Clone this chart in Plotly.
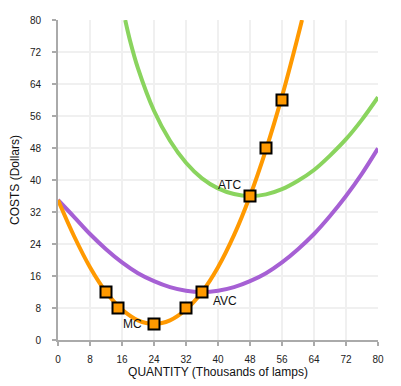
import plotly.graph_objects as go

# Marginal cost curve
mc_q = [0, 4, 8, 12, 16, 20, 24, 28, 32, 36, 40, 44, 48, 52, 56, 60, 61]
mc_v = [35, 26.0, 18.2, 12, 7.6, 4.9, 4, 4.9, 7.6, 12, 18.2, 26.2, 36, 47.6, 60.9, 76, 80]

# Average variable cost curve
avc_q = [0, 4, 8, 12, 16, 20, 24, 28, 32, 36, 40, 44, 48, 52, 56, 60, 64, 68, 72, 76, 80]
avc_v = [35, 30.8, 26.5, 22.7, 19.4, 16.7, 14.7, 13.2, 12.3, 12, 12.3, 13.2, 14.7, 16.7,
         19.4, 22.7, 26.5, 31.0, 36, 41.6, 47.9]

# Average total cost curve
atc_q = [16.8, 18, 20, 24, 28, 32, 36, 40, 44, 48, 52, 56, 60, 64, 68, 72, 76, 80]
atc_v = [80, 74.9, 67.9, 57.3, 49.8, 44.3, 40.4, 37.9, 36.5, 36.0, 36.4, 37.7, 39.8,
         42.5, 46.1, 50.2, 55.1, 60.7]

# Highlighted points on MC
pt_q = [12, 15, 24, 32, 36, 48, 52, 56]
pt_v = [12, 8, 4, 8, 12, 36, 48, 60]

ticks = [0, 8, 16, 24, 32, 40, 48, 56, 64, 72, 80]

ORANGE = "#FF9900"
GREEN = "#8AD45E"
PURPLE = "#A660D4"

fig = go.Figure()
fig.add_trace(go.Scatter(x=atc_q, y=atc_v, mode="lines", line=dict(color=GREEN, width=4, shape="spline"),
                         hoverinfo="skip"))
fig.add_trace(go.Scatter(x=avc_q, y=avc_v, mode="lines", line=dict(color=PURPLE, width=4, shape="spline"),
                         hoverinfo="skip"))
fig.add_trace(go.Scatter(x=mc_q, y=mc_v, mode="lines", line=dict(color=ORANGE, width=4, shape="spline"),
                         hoverinfo="skip"))
fig.add_trace(go.Scatter(x=pt_q, y=pt_v, mode="markers",
                         marker=dict(symbol="square", size=11, color=ORANGE,
                                     line=dict(color="black", width=2))))

annots = [("ATC", 42.8, 38.8), ("AVC", 41.8, 9.8), ("MC", 18.6, 4)]
for t, x, y in annots:
    fig.add_annotation(x=x, y=y, text=t, showarrow=False, font=dict(size=12, color="#111"))

axis_common = dict(range=[0, 80], tickvals=ticks, showgrid=True, gridcolor="#F0F0F0", gridwidth=2,
                   zeroline=False, showline=True, linecolor="#AAAAAA", linewidth=2,
                   ticks="outside", ticklen=4, tickwidth=2, tickcolor="#AAAAAA",
                   tickfont=dict(size=10, color="#222", family="Arial, Liberation Sans"),
                   fixedrange=True, automargin=False)

fig.update_layout(
    width=401, height=386,
    margin=dict(l=58, r=23, t=20, b=46),
    paper_bgcolor="white", plot_bgcolor="white",
    showlegend=False,
    font=dict(family="Arial, Liberation Sans", color="#111"),
    xaxis=dict(**axis_common, ticklabelstandoff=5,
               title=dict(text="QUANTITY (Thousands of lamps)", font=dict(size=12), standoff=4)),
    yaxis=dict(**axis_common, ticklabelstandoff=9,
               title=dict(text="COSTS (Dollars)", font=dict(size=12), standoff=8)),
)

fig.write_html("out.html")
